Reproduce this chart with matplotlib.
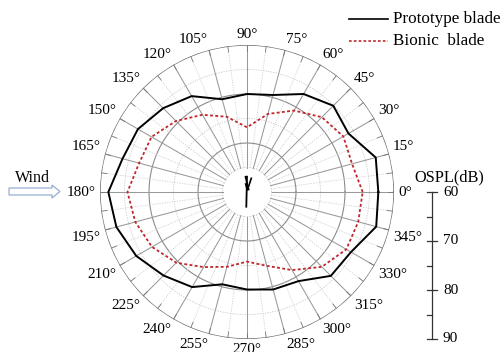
import numpy as np
import matplotlib
matplotlib.use('Agg')
import matplotlib.pyplot as plt
from matplotlib.lines import Line2D
from matplotlib.patches import Polygon

plt.rcParams['font.family'] = ['Liberation Serif', 'DejaVu Serif']

# ---------------- data ----------------
angles_deg = list(range(0, 360, 15))
prototype = [86.8, 87.2, 83.9, 84.9, 83.1, 80.5, 80.0, 79.6, 82.6, 84.2, 85.7, 86.3,
             88.3, 87.6, 86.1, 84.1, 82.4, 79.5, 79.9, 80.6, 81.0, 84.2, 84.5, 87.3]
bionic = [83.6, 82.2, 82.7, 81.6, 79.2, 76.5, 73.2, 75.9, 78.2, 80.5, 82.5, 82.8,
          84.4, 83.6, 82.4, 80.4, 77.7, 75.8, 74.2, 75.6, 78.4, 81.6, 83.4, 83.5]
series_names = ["Prototype blade", "Bionic  blade"]
r_min, r_max = 60, 90
scale_ticks = [60, 70, 80, 90]
scale_minor = [65, 75, 85]

W, H = 502, 352
def fx(x): return x / W
def fy(y): return 1 - y / H

fig = plt.figure(figsize=(W / 100, H / 100), dpi=100)
ax = fig.add_axes([0.1992, 0.0369, 0.5857, 0.8352], projection='polar')
ax.set_ylim(r_min, r_max)
ax.grid(False)
ax.set_xticks([])
ax.set_yticks([])
ax.spines['polar'].set_visible(False)

full = np.linspace(0, 2 * np.pi, 500)
# circles
for rv in [65, 75, 85]:
    ax.plot(full, np.full_like(full, rv), color='#c8c8c8', lw=0.6, ls=(0, (1.5, 1.5)))
for rv in [70, 80]:
    ax.plot(full, np.full_like(full, rv), color='#8c8c8c', lw=0.8)
ax.plot(full, np.full_like(full, 90), color='#6a6a6a', lw=1.0)

# spokes
for a in np.arange(0, 360, 7.5):
    t = np.radians(a)
    if a % 15 == 0:
        ax.plot([t, t], [65, 90], color='#999999', lw=0.75)
    else:
        ax.plot([t, t], [65, 90], color='#cfcfcf', lw=0.6, ls=(0, (1.5, 1.5)))
    ax.plot([t, t], [88.8, 90], color='#777777', lw=0.6)

# data
th = np.radians(angles_deg + [angles_deg[0]])
ax.plot(th, prototype + [prototype[0]], color='black', lw=1.4)
ax.plot(th, bionic + [bionic[0]], color='#c0272d', lw=1.3, ls=(0, (1.6, 1.3)))

# angle labels
rl = r_min + 151 / 147 * (r_max - r_min)
for a in angles_deg:
    t = np.radians(a)
    c, s = np.cos(t), np.sin(t)
    ha = 'left' if c > 0.1 else ('right' if c < -0.1 else 'center')
    va = 'bottom' if s > 0.1 else ('top' if s < -0.1 else 'center')
    ax.text(t, rl, f"{a}°", ha=ha, va=va, fontsize=11, clip_on=False)

# central turbine icon
for xs, ys, lw in [([247, 246.3], [176.7, 206.7], 1.3),
                   ([245.5, 248, 251.3], [176.7, 188.3, 178.3], 1.2),
                   ([246.5, 247.8], [184.5, 189], 2.2)]:
    fig.add_artist(Line2D([fx(v) for v in xs], [fy(v) for v in ys], color='black', lw=lw))

# legend
fig.add_artist(Line2D([fx(349), fx(388)], [fy(19), fy(19)], color='black', lw=1.2))
fig.add_artist(Line2D([fx(349), fx(388)], [fy(41), fy(41)], color='#c0272d', lw=1.2,
                      ls=(0, (1.6, 1.3))))
fig.text(fx(393), fy(19), series_names[0], va='center', ha='left', fontsize=12.3)
fig.text(fx(393), fy(41), series_names[1], va='center', ha='left', fontsize=12.3)

# OSPL scale
x0 = 431.7
y_of = lambda v: 192 + (v - r_min) / (r_max - r_min) * 147
fig.add_artist(Line2D([fx(x0), fx(x0)], [fy(y_of(60)), fy(y_of(90))], color='#333333', lw=0.9))
for v in scale_ticks:
    fig.add_artist(Line2D([fx(426.7), fx(437.3)], [fy(y_of(v))] * 2, color='#333333', lw=0.9))
    fig.text(fx(443), fy(y_of(v)), str(v), va='center', ha='left', fontsize=11)
for v in scale_minor:
    fig.add_artist(Line2D([fx(427.5), fx(x0)], [fy(y_of(v))] * 2, color='#333333', lw=0.9))
fig.text(fx(449), fy(177), "OSPL(dB)", va='center', ha='center', fontsize=11.7)

# wind arrow
pts = [(9, 188), (52, 188), (52, 185), (60, 191.5), (52, 198), (52, 195), (9, 195)]
fig.add_artist(Polygon([(fx(x), fy(y)) for x, y in pts], closed=True,
                       facecolor='white', edgecolor='#8aa6d0', lw=0.8))
fig.text(fx(32), fy(178), "Wind", va='center', ha='center', fontsize=11.5)

fig.savefig('out.png', dpi=100)
